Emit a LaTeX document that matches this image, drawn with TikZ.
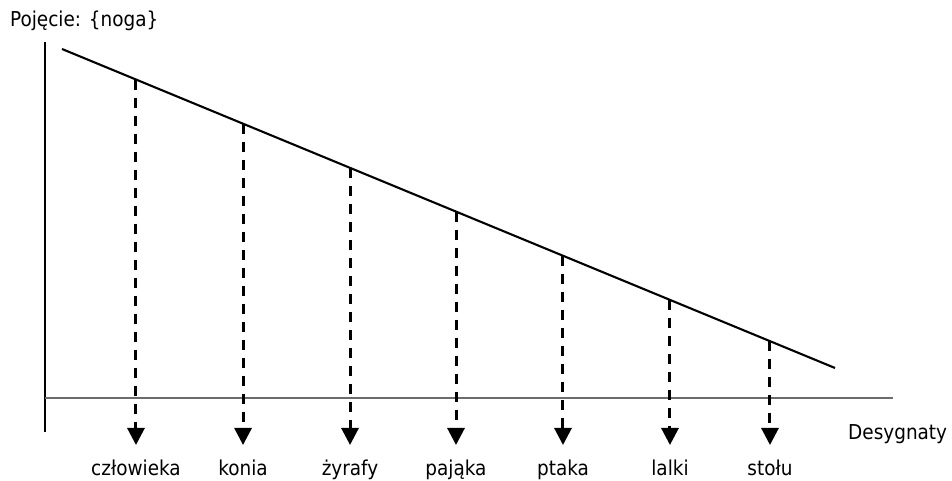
\documentclass[tikz,border=0pt]{standalone}
\usepackage{fontspec}
\setmainfont{DejaVu Sans Condensed}
\usetikzlibrary{arrows.meta}
\begin{document}
\begin{tikzpicture}[x=1pt,y=1pt,
  lab/.style={font=\fontsize{20.5}{24}\selectfont, inner sep=0pt, anchor=base},
  darr/.style={line width=3pt, dash pattern=on 10pt off 8pt, -{Triangle[width=17pt,length=17pt]}},
  axis/.style={line width=1.4pt},
  diag/.style={line width=2.1pt}]
\useasboundingbox (0,0) rectangle (952,481);
% axes
\coordinate (va) at (45,439);
\coordinate (vb) at (45,49);
\coordinate (ha) at (45,83);
\coordinate (hb) at (893,83);
\draw[axis] (va) -- (vb);
\draw[axis, draw=gray!85!black] (ha) -- (hb);
% diagonal
\coordinate (L1) at (62,432);
\coordinate (L2) at (835,113);
\draw[diag] (L1) -- (L2);
% points on diagonal
\path (L1) -- (L2)
  coordinate[pos=0.0957] (p1)
  coordinate[pos=0.2342] (p2)
  coordinate[pos=0.3726] (p3)
  coordinate[pos=0.5097] (p4)
  coordinate[pos=0.6481] (p5)
  coordinate[pos=0.7865] (p6)
  coordinate[pos=0.9159] (p7);
% labels
\node[lab] (n1) at (136,5) {człowieka};
\node[lab] (n2) at (243,5) {konia};
\node[lab] (n3) at (350,5) {żyrafy};
\node[lab] (n4) at (456,5) {pająka};
\node[lab] (n5) at (563,5) {ptaka};
\node[lab] (n6) at (670,5) {lalki};
\node[lab] (n7) at (770,5) {stołu};
\node[lab, anchor=base west] (des) at (848,41) {Desygnaty};
\node[lab, anchor=base west] (poj) at (10,454) {Pojęcie: \{noga\}};
% arrow tips
\foreach \i in {1,...,7} {
  \coordinate (t\i) at (p\i |- 0,36);
  \draw[darr] (p\i) -- (t\i);
}
\end{tikzpicture}
\end{document}
